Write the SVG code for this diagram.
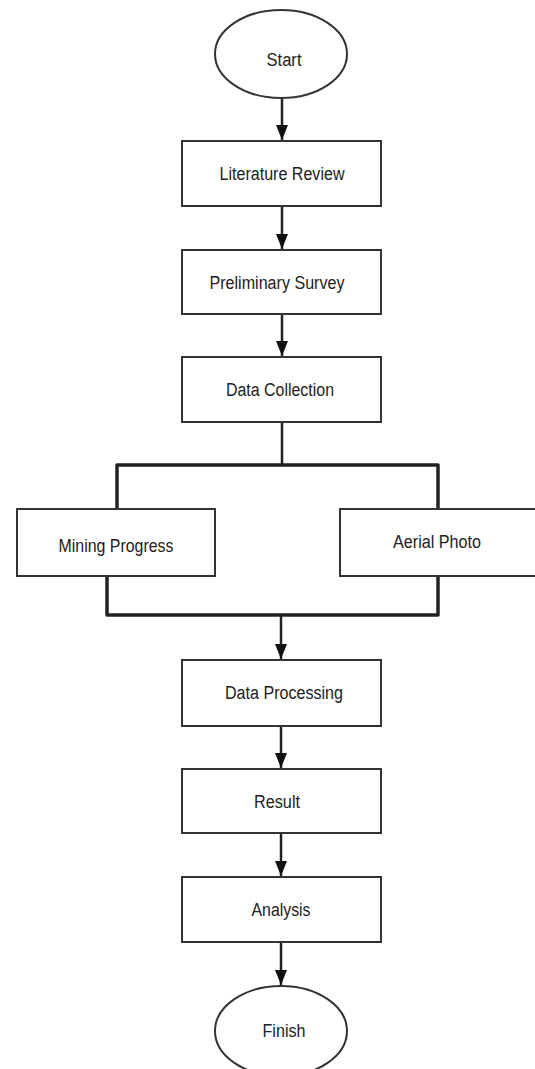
<svg xmlns="http://www.w3.org/2000/svg" width="535" height="1069" viewBox="0 0 535 1069">
<defs>
<style>
.box{fill:#fff;stroke:#333;stroke-width:2}
.lbl{font-family:"Liberation Sans",Arial,sans-serif;font-size:18px;fill:#222;text-anchor:middle}
.con{fill:none;stroke:#222;stroke-width:2.5}
.bus{fill:none;stroke:#222;stroke-width:3.5;stroke-linejoin:round}
</style>
<marker id="ah" markerUnits="userSpaceOnUse" markerWidth="16" markerHeight="14" refX="15" refY="7" orient="auto" viewBox="0 0 16 14">
<path d="M0,1 L15,7 L0,13 Z" fill="#111"/>
</marker>
</defs>
<rect width="535" height="1069" fill="#fff"/>
<g id="connectors">
<path class="con" d="M282,98 V140" marker-end="url(#ah)"/>
<path class="con" d="M282,206 V249" marker-end="url(#ah)"/>
<path class="con" d="M282,314 V356" marker-end="url(#ah)"/>
<path class="con" d="M282,422 V465"/>
<path class="bus" d="M117,509 V465 H438 V509"/>
<path class="bus" d="M107,576 V615 H438 V576"/>
<path class="con" d="M281,615 V659" marker-end="url(#ah)"/>
<path class="con" d="M281,726 V768" marker-end="url(#ah)"/>
<path class="con" d="M281,833 V876" marker-end="url(#ah)"/>
<path class="con" d="M281,942 V985" marker-end="url(#ah)"/>
</g>
<g id="start">
<ellipse class="box" cx="281" cy="54" rx="66" ry="44"/>
<text class="lbl" x="284" y="66" textLength="35" lengthAdjust="spacingAndGlyphs">Start</text>
</g>
<g id="literature-review">
<rect class="box" x="182" y="141" width="199" height="65"/>
<text class="lbl" x="282" y="180" textLength="125" lengthAdjust="spacingAndGlyphs">Literature Review</text>
</g>
<g id="preliminary-survey">
<rect class="box" x="182" y="250" width="199" height="64"/>
<text class="lbl" x="277" y="289" textLength="135" lengthAdjust="spacingAndGlyphs">Preliminary Survey</text>
</g>
<g id="data-collection">
<rect class="box" x="182" y="357" width="199" height="65"/>
<text class="lbl" x="280" y="396" textLength="108" lengthAdjust="spacingAndGlyphs">Data Collection</text>
</g>
<g id="mining-progress">
<rect class="box" x="17" y="509" width="198" height="67"/>
<text class="lbl" x="116" y="552" textLength="115" lengthAdjust="spacingAndGlyphs">Mining Progress</text>
</g>
<g id="aerial-photo">
<rect class="box" x="340" y="509" width="200" height="67"/>
<text class="lbl" x="437" y="548" textLength="88" lengthAdjust="spacingAndGlyphs">Aerial Photo</text>
</g>
<g id="data-processing">
<rect class="box" x="182" y="660" width="199" height="66"/>
<text class="lbl" x="284" y="699" textLength="118" lengthAdjust="spacingAndGlyphs">Data Processing</text>
</g>
<g id="result">
<rect class="box" x="182" y="769" width="199" height="64"/>
<text class="lbl" x="277" y="808" textLength="46" lengthAdjust="spacingAndGlyphs">Result</text>
</g>
<g id="analysis">
<rect class="box" x="182" y="877" width="199" height="65"/>
<text class="lbl" x="281" y="916" textLength="59" lengthAdjust="spacingAndGlyphs">Analysis</text>
</g>
<g id="finish">
<ellipse class="box" cx="281" cy="1031" rx="66" ry="45"/>
<text class="lbl" x="284" y="1037" textLength="43" lengthAdjust="spacingAndGlyphs">Finish</text>
</g>
</svg>
